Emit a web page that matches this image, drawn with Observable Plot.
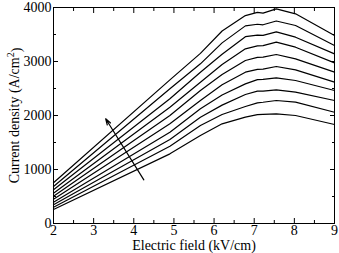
<!DOCTYPE html>
<html>
<head>
<meta charset="utf-8">
<script src="https://cdn.jsdelivr.net/npm/d3@7"></script>
<script src="https://cdn.jsdelivr.net/npm/@observablehq/plot@0.6"></script>
<style>
  html, body { margin: 0; padding: 0; background: #fff; }
  svg { display: block; }
</style>
</head>
<body>
<div id="chart"></div>
<script>
// Electric field sample positions (kV/cm)
const fieldX = [2, 4.9, 5.66, 6.2, 6.78, 7.08, 7.22, 7.55, 8.03, 9];
// Current density curves (A/cm^2), top to bottom
const c1  = [754, 2660, 3150, 3565, 3850, 3910, 3895, 3975, 3883, 3481];
const c2  = [685, 2494, 2957, 3345, 3660, 3690, 3680, 3750, 3667, 3296];
const c3  = [624, 2309, 2802, 3135, 3460, 3490, 3485, 3549, 3450, 3142];
const c4  = [561, 2154, 2617, 2946, 3235, 3290, 3295, 3358, 3265, 2975];
const c5  = [506, 2000, 2463, 2758, 3019, 3075, 3080, 3130, 3049, 2802];
const c6  = [450, 1846, 2278, 2570, 2802, 2855, 2860, 2907, 2846, 2617];
const c7  = [395, 1691, 2124, 2380, 2586, 2665, 2668, 2698, 2648, 2463];
const c8  = [346, 1556, 1969, 2192, 2389, 2450, 2452, 2475, 2432, 2278];
const c9  = [302, 1432, 1815, 2019, 2167, 2235, 2245, 2278, 2247, 2061];
const c10 = [259, 1290, 1630, 1846, 1969, 2015, 2020, 2031, 2000, 1833];
const curves = [c1, c2, c3, c4, c5, c6, c7, c8, c9, c10];

// Arrow (direction of increasing parameter)
const arrowFrom = [4.25, 809];
const arrowTo = [3.30, 1939];

// Ticks
const xMajor = [2, 3, 4, 5, 6, 7, 8, 9];
const xMinor = [2.5, 3.5, 4.5, 5.5, 6.5, 7.5, 8.5];
const yMajor = [0, 1000, 2000, 3000, 4000];
const yMinor = [500, 1500, 2500, 3500];

const rows = [];
curves.forEach((c, i) => c.forEach((v, j) => rows.push({x: fieldX[j], y: v, s: i})));

const font = "'Liberation Serif', 'DejaVu Serif', serif";

const chart = Plot.plot({
  width: 339,
  height: 253,
  marginLeft: 53,
  marginRight: 5,
  marginTop: 7,
  marginBottom: 30,
  style: {fontFamily: font, fontSize: "14px", color: "#000", background: "#fff"},
  x: {domain: [2, 9], label: null},
  y: {domain: [0, 4000], label: null},
  marks: [
    // bottom ticks (inward)
    Plot.axisX(xMajor, {anchor: "bottom", tickSize: -5, text: null, label: null}),
    Plot.axisX(xMinor, {anchor: "bottom", tickSize: -3, text: null, label: null}),
    Plot.axisX(xMajor, {anchor: "bottom", tickSize: 0, tickPadding: 2, tickFormat: "d",
      label: "Electric field (kV/cm)", labelAnchor: "center", labelArrow: "none", labelOffset: 26, fontSize: 14}),
    // top ticks (inward)
    Plot.axisX(xMajor, {anchor: "top", tickSize: -5, text: null, label: null}),
    Plot.axisX(xMinor, {anchor: "top", tickSize: -3, text: null, label: null}),
    // left ticks
    Plot.axisY(yMajor, {anchor: "left", tickSize: -5, text: null, label: null}),
    Plot.axisY(yMinor, {anchor: "left", tickSize: -3, text: null, label: null}),
    Plot.axisY(yMajor, {anchor: "left", tickSize: 0, tickPadding: 2, tickFormat: "d",
      label: "Current density (A/cm2)", labelAnchor: "center", labelArrow: "none", labelOffset: 44, fontSize: 14}),
    // right ticks
    Plot.axisY(yMajor, {anchor: "right", tickSize: -5, text: null, label: null}),
    Plot.axisY(yMinor, {anchor: "right", tickSize: -3, text: null, label: null}),
    Plot.frame({stroke: "#000", strokeWidth: 1}),
    Plot.line(rows, {x: "x", y: "y", z: "s", stroke: "#000", strokeWidth: 1.2}),
    Plot.arrow([{x1: arrowFrom[0], y1: arrowFrom[1], x2: arrowTo[0], y2: arrowTo[1]}],
      {x1: "x1", y1: "y1", x2: "x2", y2: "y2", stroke: "#000", strokeWidth: 1.2, headLength: 8, headAngle: 35})
  ]
});
document.getElementById("chart").appendChild(chart);

// superscript in the y label
d3.select(chart).selectAll('g[aria-label="y-axis label"] text').each(function() {
  const t = d3.select(this);
  t.text(null);
  t.append("tspan").text("Current density (A/cm");
  t.append("tspan").attr("dy", "-0.5em").attr("font-size", "10px").text("2");
  t.append("tspan").attr("dy", "0.5em").text(")");
});
</script>
</body>
</html>
